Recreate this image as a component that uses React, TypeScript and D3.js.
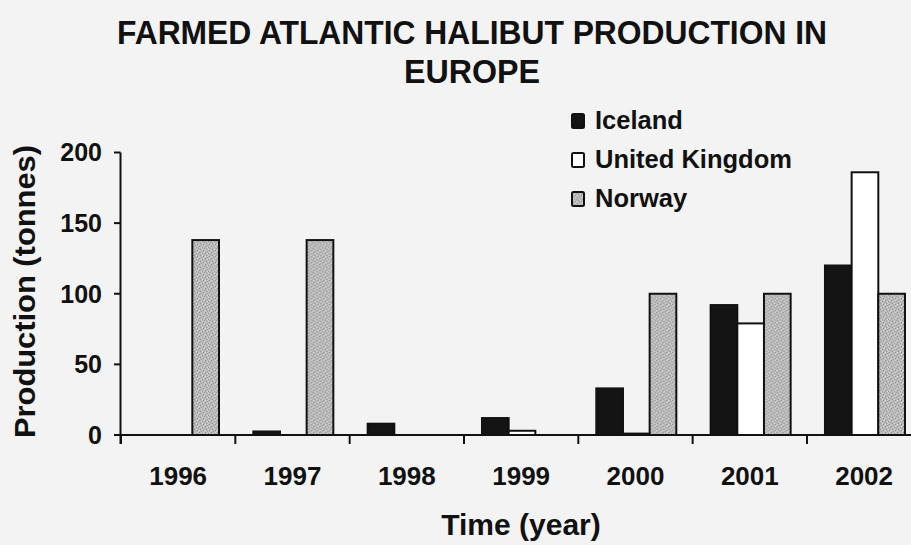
import React from "react";
import * as d3 from "d3";

const years = ["1996", "1997", "1998", "1999", "2000", "2001", "2002"];
const seriesNames = ["Iceland", "United Kingdom", "Norway"];
const iceland = [0, 2.5, 8, 12, 33, 92, 120];
const unitedKingdom = [0, 0, 0, 3, 1, 79, 186];
const norway = [138, 138, 0, 0, 100, 100, 100];
const yTicks = [0, 50, 100, 150, 200];
const titleLines = ["FARMED ATLANTIC HALIBUT PRODUCTION IN", "EUROPE"];
const yLabel = "Production (tonnes)";
const xLabel = "Time (year)";

const W = 911;
const H = 545;
const FONT = "'Liberation Sans', Arial, Helvetica, sans-serif";

export default function App() {
  const values = [iceland, unitedKingdom, norway];
  const fills = ["#141414", "#ffffff", "url(#norwayPat)"];

  const y = d3.scaleLinear().domain([0, 200]).range([435, 152.5]);
  const x0 = d3.scaleBand<string>().domain(years).range([121, 921.3]).padding(0);
  const x1 = d3.scaleBand<string>().domain(seriesNames).range([18, 98]).padding(0);
  const boundaries = years.map((yr) => x0(yr) as number);

  return (
    <svg
      width={W}
      height={H}
      style={{ position: "absolute", left: 0, top: 0, background: "#f3f3f3" }}
      xmlns="http://www.w3.org/2000/svg"
    >
      <defs>
        <pattern id="norwayPat" width="6" height="6" patternUnits="userSpaceOnUse">
          <rect width="6" height="6" fill="#bababa" />
          <rect x="0" y="0" width="1" height="1" fill="#909090" />
          <rect x="3" y="1" width="1" height="1" fill="#9a9a9a" />
          <rect x="1" y="3" width="1" height="1" fill="#959595" />
          <rect x="4" y="4" width="1" height="1" fill="#8f8f8f" />
          <rect x="2" y="5" width="1" height="1" fill="#a2a2a2" />
          <rect x="5" y="2" width="1" height="1" fill="#a0a0a0" />
          <rect x="2" y="1" width="1" height="1" fill="#d4d4d4" />
          <rect x="4" y="0" width="1" height="1" fill="#d0d0d0" />
          <rect x="0" y="4" width="1" height="1" fill="#d6d6d6" />
          <rect x="3" y="3" width="1" height="1" fill="#d2d2d2" />
          <rect x="5" y="5" width="1" height="1" fill="#cfcfcf" />
        </pattern>
      </defs>
      <rect x={0} y={0} width={W} height={H} fill="#f3f3f3" />

      {/* title */}
      <g fontFamily={FONT} fontWeight="bold" fill="#111" textAnchor="middle">
        <text x={472} y={44} fontSize={34} textLength={710} lengthAdjust="spacingAndGlyphs">
          {titleLines[0]}
        </text>
        <text x={472} y={83} fontSize={34} textLength={136} lengthAdjust="spacingAndGlyphs">
          {titleLines[1]}
        </text>
      </g>

      {/* bars */}
      {years.map((yr, i) => (
        <g key={yr} transform={`translate(${x0(yr)},0)`}>
          {seriesNames.map((s, k) => {
            const v = values[k][i];
            const top = y(v);
            return (
              <rect
                key={s}
                x={x1(s)}
                y={top}
                width={x1.bandwidth()}
                height={Math.max(0, y(0) - top)}
                fill={fills[k]}
                stroke="#111"
                strokeWidth={2}
              />
            );
          })}
        </g>
      ))}

      {/* y axis */}
      <line x1={120.5} x2={120.5} y1={y(200)} y2={444} stroke="#111" strokeWidth={2} />
      {yTicks.map((t) => (
        <g key={t}>
          <line x1={114} x2={120.5} y1={y(t)} y2={y(t)} stroke="#111" strokeWidth={2} />
          <text
            x={102}
            y={y(t)}
            dy="0.35em"
            textAnchor="end"
            fontFamily={FONT}
            fontWeight="bold"
            fontSize={25}
            fill="#111"
          >
            {t}
          </text>
        </g>
      ))}

      {/* x axis */}
      <line x1={114} x2={W} y1={y(0)} y2={y(0)} stroke="#111" strokeWidth={2} />
      {boundaries.map((bx, i) => (
        <line key={i} x1={bx} x2={bx} y1={y(0)} y2={444} stroke="#111" strokeWidth={2} />
      ))}
      {years.map((yr) => (
        <text
          key={yr}
          x={(x0(yr) as number) + x0.bandwidth() / 2}
          y={485}
          textAnchor="middle"
          fontFamily={FONT}
          fontWeight="bold"
          fontSize={26}
          fill="#111"
        >
          {yr}
        </text>
      ))}

      {/* axis titles */}
      <text
        x={521}
        y={535}
        textAnchor="middle"
        fontFamily={FONT}
        fontWeight="bold"
        fontSize={30}
        fill="#111"
      >
        {xLabel}
      </text>
      <text
        transform="translate(35,291.5) rotate(-90)"
        textAnchor="middle"
        fontFamily={FONT}
        fontWeight="bold"
        fontSize={29}
        fill="#111"
        textLength={293}
        lengthAdjust="spacingAndGlyphs"
      >
        {yLabel}
      </text>

      {/* legend */}
      {seriesNames.map((s, k) => (
        <g key={s} transform={`translate(571,${113 + k * 39})`}>
          <rect
            x={1}
            y={1}
            width={12}
            height={14}
            rx={1.5}
            fill={fills[k]}
            stroke="#111"
            strokeWidth={2}
          />
          <text
            x={24}
            y={16}
            fontFamily={FONT}
            fontWeight="bold"
            fontSize={25.5}
            fill="#111"
          >
            {s}
          </text>
        </g>
      ))}
    </svg>
  );
}
